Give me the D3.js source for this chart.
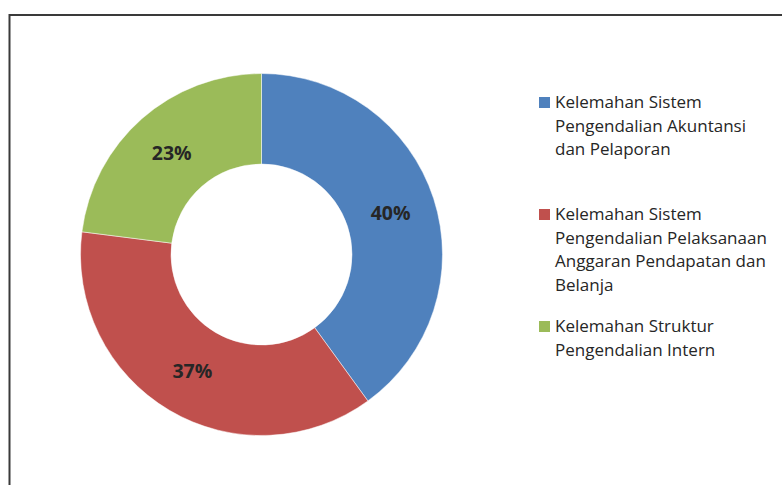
<!DOCTYPE html>
<html>
<head>
<meta charset="utf-8">
<script src="https://cdn.jsdelivr.net/npm/d3@7"></script>
<style>
  html, body { margin: 0; padding: 0; background: #fff; }
  svg { display: block; font-family: "Open Sans", Lato, sans-serif; }
</style>
</head>
<body>
<svg id="main" width="782" height="485"></svg>
<script>
// data
const categories = [
  "Kelemahan Sistem Pengendalian Akuntansi dan Pelaporan",
  "Kelemahan Sistem Pengendalian Pelaksanaan Anggaran Pendapatan dan Belanja",
  "Kelemahan Struktur Pengendalian Intern"
];
const values = [40, 37, 23];
const legendLines = [
  ["Kelemahan Sistem", "Pengendalian Akuntansi", "dan Pelaporan"],
  ["Kelemahan Sistem", "Pengendalian Pelaksanaan", "Anggaran Pendapatan dan", "Belanja"],
  ["Kelemahan Struktur", "Pengendalian Intern"]
];
const colors = ["#4F81BD", "#C0504D", "#9BBB59"];

const width = 782, height = 485;
const cx = 261.5, cy = 254.5;
const outerR = 181, innerR = 90.5;

let svg = d3.select('#main');

// chart frame (runs off the right and bottom edges)
svg.append('rect')
  .attr('x', 9.5).attr('y', 15)
  .attr('width', 800).attr('height', 500)
  .attr('fill', 'none')
  .attr('stroke', '#3a3a3a')
  .attr('stroke-width', 2);

let color = d3.scaleOrdinal().domain(categories).range(colors);

let pie = d3.pie().sort(null).value(d => d.value);
let arcs = pie(categories.map((c, i) => ({ name: c, value: values[i] })));

let arc = d3.arc().innerRadius(innerR).outerRadius(outerR);

let center = svg.append('g')
  .attr('transform', `translate(${cx},${cy})`);

center.selectAll('path').data(arcs).join('path')
  .attr('d', arc)
  .attr('fill', d => color(d.data.name))
  .attr('stroke', '#fff')
  .attr('stroke-width', 0.5);

let total = d3.sum(values);
center.selectAll('text').data(arcs).join('text')
  .attr('transform', d => `translate(${arc.centroid(d)})`)
  .attr('text-anchor', 'middle')
  .attr('dy', '0.36em')
  .style('font-size', '19.5px')
  .style('font-weight', 'bold')
  .style('fill', '#262626')
  .text(d => d3.format('.0%')(d.data.value / total));

// legend
let legend = svg.append('g').attr('class', 'legend');
let items = legend.selectAll('g').data(categories).join('g')
  .attr('transform', (d, i) => `translate(539, ${108 + i * 112})`);

items.append('rect')
  .attr('x', 0).attr('y', -11)
  .attr('width', 11).attr('height', 11)
  .attr('fill', d => color(d));

items.append('text')
  .style('font-size', '17px')
  .style('fill', '#262626')
  .selectAll('tspan')
  .data((d, i) => legendLines[i])
  .join('tspan')
  .attr('x', 16)
  .attr('y', (d, j) => j * 23.5)
  .text(d => d);
</script>
</body>
</html>
